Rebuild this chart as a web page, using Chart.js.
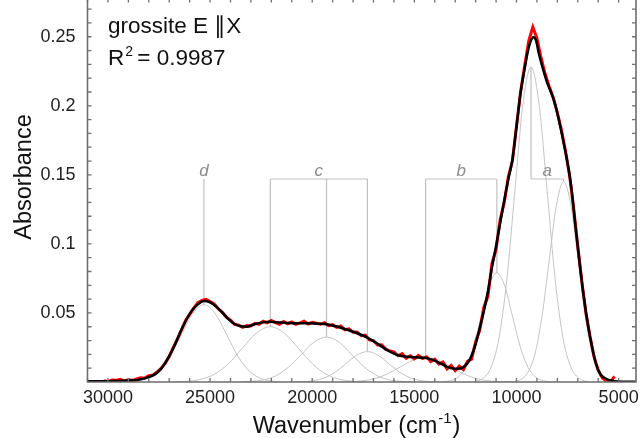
<!DOCTYPE html>
<html>
<head>
<meta charset="utf-8">
<script src="https://cdn.jsdelivr.net/npm/chart.js@4.4.1/dist/chart.umd.min.js"></script>
<style>
  html, body { margin: 0; padding: 0; background: #fff; }
  #caja { width: 642px; height: 438px; }
</style>
</head>
<body>
<div id="caja"><canvas id="grafico"></canvas></div>
<script>
// ---- datos ----
const fitX = [31000, 30000, 29500, 29000, 28500, 28000, 27700, 27400, 27100, 26800, 26500, 26200, 25900, 25600, 25300, 25000, 24700, 24400, 24100, 23800, 23500, 23200, 22900, 22500, 22050, 21500, 21000, 20300, 19700, 19300, 18900, 18600, 18000, 17300, 16700, 16300, 16000, 15700, 15300, 14900, 14500, 14100, 13700, 13400, 13100, 12850, 12600, 12400, 12200, 12000, 11800, 11600, 11400, 11200, 11000, 10800, 10600, 10400, 10200, 10000, 9800, 9600, 9450, 9300, 9180, 9050, 8900, 8700, 8500, 8300, 8100, 7900, 7700, 7500, 7300, 7100, 6900, 6700, 6500, 6300, 6100, 5900, 5700, 5500, 5200, 4800, 4150];
const fitY = [0.0005, 0.0006, 0.0008, 0.0010, 0.0016, 0.0035, 0.0055, 0.0095, 0.0162, 0.0245, 0.0348, 0.0440, 0.0515, 0.0562, 0.0586, 0.0577, 0.0546, 0.0502, 0.0455, 0.0420, 0.0403, 0.0400, 0.0415, 0.0430, 0.0437, 0.0430, 0.0425, 0.0425, 0.0422, 0.0418, 0.0405, 0.0393, 0.0364, 0.0322, 0.0267, 0.0228, 0.0205, 0.0190, 0.0182, 0.0179, 0.0175, 0.0160, 0.0133, 0.0110, 0.0098, 0.0096, 0.0108, 0.0135, 0.0190, 0.0275, 0.0390, 0.0510, 0.0655, 0.0830, 0.0985, 0.1150, 0.1315, 0.1470, 0.1610, 0.1850, 0.2095, 0.2270, 0.2390, 0.2470, 0.2497, 0.2475, 0.2375, 0.2265, 0.2168, 0.2095, 0.2005, 0.1880, 0.1740, 0.1585, 0.1390, 0.1110, 0.0850, 0.0610, 0.0412, 0.0253, 0.0127, 0.0058, 0.0030, 0.0015, 0.0006, 0.0002, 0.0001];

const datosX = [30200, 30000, 29800, 29600, 29400, 29200, 29000, 28800, 28600, 28400, 28200, 28000, 27800, 27600, 27400, 27200, 27000, 26800, 26600, 26400, 26200, 26000, 25800, 25600, 25400, 25200, 25000, 24800, 24600, 24400, 24200, 24000, 23800, 23600, 23400, 23200, 23000, 22800, 22600, 22400, 22200, 22000, 21800, 21600, 21400, 21200, 21000, 20800, 20600, 20400, 20200, 20000, 19800, 19600, 19400, 19200, 19000, 18800, 18600, 18400, 18200, 18000, 17800, 17600, 17400, 17200, 17000, 16800, 16600, 16400, 16200, 16000, 15800, 15600, 15400, 15200, 15000, 14800, 14600, 14400, 14200, 14000, 13800, 13600, 13400, 13200, 13000, 12800, 12600, 12400, 12200, 12000, 11800, 11600, 11400, 11200, 11000, 10800, 10600, 10400, 10200, 10000, 9800, 9600, 9400, 9200, 9000, 8800, 8600, 8400, 8200, 8000, 7800, 7600, 7400, 7200, 7000, 6800, 6600, 6400, 6200, 6000, 5800, 5600, 5400, 5200];
const datosY = [0.0010, 0.0002, 0.0015, 0.0012, 0.0020, 0.0008, 0.0016, 0.0012, 0.0022, 0.0030, 0.0028, 0.0045, 0.0050, 0.0072, 0.0098, 0.0135, 0.0185, 0.0250, 0.0308, 0.0378, 0.0445, 0.0490, 0.0535, 0.0575, 0.0590, 0.0598, 0.0582, 0.0565, 0.0530, 0.0505, 0.0470, 0.0448, 0.0418, 0.0412, 0.0396, 0.0408, 0.0405, 0.0425, 0.0418, 0.0440, 0.0428, 0.0445, 0.0430, 0.0418, 0.0438, 0.0422, 0.0435, 0.0418, 0.0428, 0.0440, 0.0420, 0.0432, 0.0425, 0.0418, 0.0430, 0.0408, 0.0415, 0.0395, 0.0405, 0.0378, 0.0385, 0.0360, 0.0362, 0.0335, 0.0340, 0.0305, 0.0300, 0.0268, 0.0270, 0.0238, 0.0225, 0.0218, 0.0190, 0.0205, 0.0172, 0.0190, 0.0168, 0.0192, 0.0170, 0.0182, 0.0148, 0.0165, 0.0130, 0.0145, 0.0095, 0.0120, 0.0082, 0.0115, 0.0090, 0.0150, 0.0165, 0.0290, 0.0375, 0.0540, 0.0620, 0.0860, 0.0960, 0.1175, 0.1300, 0.1485, 0.1600, 0.1850, 0.2100, 0.2290, 0.2470, 0.2570, 0.2490, 0.2350, 0.2232, 0.2140, 0.2060, 0.1950, 0.1825, 0.1670, 0.1495, 0.1255, 0.0985, 0.0725, 0.0500, 0.0330, 0.0180, 0.0085, 0.0030, 0.0005, 0.0000, 0.0040];

// componentes (bandas grises)
const bandaD_X  = [29000, 28660, 28100, 27540, 26980, 26420, 25860, 25300, 24740, 24180, 23620, 23060, 22500, 21940, 21600];
const bandaD_Y  = [0, 0.0006, 0.0025, 0.0076, 0.0182, 0.0340, 0.0494, 0.0560, 0.0494, 0.0340, 0.0182, 0.0076, 0.0025, 0.0006, 0];
const bandaC1_X = [26700, 26190, 25500, 24810, 24120, 23430, 22740, 22050, 21360, 20670, 19980, 19290, 18600, 17910, 17400];
const bandaC1_Y = [0, 0.0004, 0.0018, 0.0054, 0.0130, 0.0243, 0.0353, 0.0400, 0.0353, 0.0243, 0.0130, 0.0054, 0.0018, 0.0004, 0];
const bandaC2_X = [23500, 23050, 22425, 21800, 21175, 20550, 19925, 19300, 18675, 18050, 17425, 16800, 16175, 15550, 15100];
const bandaC2_Y = [0, 0.0004, 0.0014, 0.0044, 0.0106, 0.0197, 0.0287, 0.0325, 0.0287, 0.0197, 0.0106, 0.0044, 0.0014, 0.0004, 0];
const bandaC3_X = [20900, 20450, 19925, 19400, 18875, 18350, 17825, 17300, 16775, 16250, 15725, 15200, 14675, 14150, 13700];
const bandaC3_Y = [0, 0.0002, 0.0010, 0.0030, 0.0071, 0.0133, 0.0194, 0.0220, 0.0194, 0.0133, 0.0071, 0.0030, 0.0010, 0.0002, 0];
const bandaB1_X = [18700, 18200, 17575, 16950, 16325, 15700, 15075, 14450, 13825, 13200, 12575, 11950, 11325, 10700, 10200];
const bandaB1_Y = [0, 0.0002, 0.0008, 0.0024, 0.0058, 0.0108, 0.0157, 0.0178, 0.0157, 0.0108, 0.0058, 0.0024, 0.0008, 0.0002, 0];
const bandaB2_X = [13600, 13240, 12860, 12480, 12100, 11720, 11340, 10960, 10580, 10200, 9820, 9440, 9060, 8680, 8300];
const bandaB2_Y = [0, 0.0009, 0.0035, 0.0107, 0.0257, 0.0479, 0.0697, 0.0790, 0.0697, 0.0479, 0.0257, 0.0107, 0.0035, 0.0009, 0];
const bandaA1_X = [12100, 11660, 11265, 10870, 10475, 10080, 9685, 9290, 8895, 8500, 8105, 7710, 7315, 6920, 6500];
const bandaA1_Y = [0, 0.0025, 0.0100, 0.0308, 0.0740, 0.1383, 0.2012, 0.2280, 0.2012, 0.1383, 0.0740, 0.0308, 0.0100, 0.0025, 0];
const bandaA2_X = [10200, 9820, 9465, 9110, 8755, 8400, 8045, 7690, 7335, 6980, 6625, 6270, 5915, 5560, 5200];
const bandaA2_Y = [0, 0.0016, 0.0064, 0.0196, 0.0471, 0.0879, 0.1280, 0.1450, 0.1280, 0.0879, 0.0471, 0.0196, 0.0064, 0.0016, 0];

// centros y alturas de las bandas, y su grupo
const centros = [25300, 22050, 19300, 17300, 14450, 10960, 9290, 7690];
const alturas = [0.0560, 0.0400, 0.0325, 0.0220, 0.0178, 0.0790, 0.2280, 0.1450];
const grupoNombres = ['d', 'c', 'b', 'a'];
const grupoBandas = [[0], [1, 2, 3], [4, 5], [6, 7]];
const nivelCorchete = 0.147;

const xTicks = [30000, 25000, 20000, 15000, 10000, 5000];
const xTickLabels = ['30000', '25000', '20000', '15000', '10000', '5000'];
const yTicks = [0.05, 0.1, 0.15, 0.2, 0.25];
const yTickLabels = ['0.05', '0.1', '0.15', '0.2', '0.25'];

const fuente = "'Liberation Sans', Arial, sans-serif";
const pares = (xs, ys) => xs.map((x, i) => ({ x, y: ys[i] }));

const bandas = [
  [bandaD_X, bandaD_Y], [bandaC1_X, bandaC1_Y], [bandaC2_X, bandaC2_Y], [bandaC3_X, bandaC3_Y],
  [bandaB1_X, bandaB1_Y], [bandaB2_X, bandaB2_Y], [bandaA1_X, bandaA1_Y], [bandaA2_X, bandaA2_Y]
];

const datasets = [];
datasets.push({ data: pares(fitX, fitY), borderColor: '#000', borderWidth: 2.5, cubicInterpolationMode: 'monotone', order: 0 });
datasets.push({ data: pares(datosX, datosY), borderColor: '#ff0000', borderWidth: 3, tension: 0, order: 1 });
bandas.forEach(([bx, by]) => {
  datasets.push({ data: pares(bx, by), borderColor: '#c4c4c4', borderWidth: 1, cubicInterpolationMode: 'monotone', order: 2 });
});
// lineas de los corchetes
centros.forEach((c, i) => {
  datasets.push({ data: [{ x: c, y: alturas[i] }, { x: c, y: nivelCorchete }], borderColor: '#c0c0c0', borderWidth: 1.2, tension: 0, order: 3 });
});
grupoBandas.forEach(g => {
  if (g.length < 2) return;
  datasets.push({ data: [{ x: centros[g[0]], y: nivelCorchete }, { x: centros[g[g.length - 1]], y: nivelCorchete }], borderColor: '#c0c0c0', borderWidth: 1.2, tension: 0, order: 3 });
});

const decoraciones = {
  id: 'decoraciones',
  afterDatasetsDraw(chart) {
    const { ctx, scales: { x, y } } = chart;
    ctx.save();
    ctx.fillStyle = '#8c8c8c';
    ctx.font = 'italic 17px ' + fuente;
    ctx.textAlign = 'center';
    ctx.textBaseline = 'alphabetic';
    grupoBandas.forEach((g, i) => {
      const medio = (centros[g[0]] + centros[g[g.length - 1]]) / 2;
      ctx.fillText(grupoNombres[i], x.getPixelForValue(medio), y.getPixelForValue(nivelCorchete) - 3);
    });
    ctx.restore();
  },
  afterDraw(chart) {
    const { ctx, chartArea: a, scales: { x, y } } = chart;
    ctx.save();
    ctx.strokeStyle = '#6e6e6e';
    ctx.lineWidth = 1.3;
    ctx.beginPath();
    for (let v = 31000; v >= 5000; v -= 1000) {
      const px = x.getPixelForValue(v);
      ctx.moveTo(px, a.bottom); ctx.lineTo(px, a.bottom - 4);
      ctx.moveTo(px, a.top); ctx.lineTo(px, a.top + 2.5);
    }
    for (let k = 1; k <= 27; k++) {
      const py = y.getPixelForValue(k / 100);
      ctx.moveTo(a.left, py); ctx.lineTo(a.left + 4, py);
      ctx.moveTo(a.right, py); ctx.lineTo(a.right - 4, py);
    }
    ctx.stroke();
    ctx.lineWidth = 1.6;
    ctx.beginPath();
    ctx.moveTo(a.left, a.top); ctx.lineTo(a.left, a.bottom); ctx.lineTo(a.right, a.bottom); ctx.lineTo(a.right, a.top);
    ctx.stroke();

    // textos
    ctx.fillStyle = '#111';
    ctx.textAlign = 'left';
    ctx.textBaseline = 'alphabetic';
    ctx.font = '22.5px ' + fuente;
    ctx.fillText('grossite E \u2225X', 108, 33);
    ctx.fillText('R', 108, 65);
    const wR = ctx.measureText('R').width;
    ctx.font = '14px ' + fuente;
    ctx.fillText('2', 108 + wR + 1, 56);
    ctx.font = '22.5px ' + fuente;
    ctx.fillText('= 0.9987', 108 + wR + 13, 65);

    ctx.font = '23.5px ' + fuente;
    ctx.textAlign = 'center';
    ctx.fillText('Wavenumber (cm', 345, 433);
    const wW = ctx.measureText('Wavenumber (cm').width;
    const x0 = 345 + wW / 2;
    ctx.textAlign = 'left';
    ctx.font = '15px ' + fuente;
    ctx.fillText('-1', x0 + 1, 423);
    const wS = ctx.measureText('-1').width;
    ctx.font = '23.5px ' + fuente;
    ctx.fillText(')', x0 + 2 + wS, 433);

    ctx.translate(31, 177);
    ctx.rotate(-Math.PI / 2);
    ctx.textAlign = 'center';
    ctx.fillText('Absorbance', 0, 0);
    ctx.restore();
  }
};

new Chart(document.getElementById('grafico'), {
  type: 'line',
  data: { datasets },
  options: {
    responsive: true,
    maintainAspectRatio: false,
    animation: false,
    layout: { padding: { top: 0, right: 6, left: 0, bottom: 0 } },
    elements: { point: { radius: 0 } },
    plugins: { legend: { display: false }, tooltip: { enabled: false } },
    scales: {
      x: {
        type: 'linear', reverse: true, min: 4150, max: 31000,
        grid: { display: false, drawTicks: false },
        border: { display: false },
        afterBuildTicks: s => { s.ticks = xTicks.map(v => ({ value: v })); },
        afterFit: s => { s.height = 56; s.paddingLeft = 0; s.paddingRight = 0; },
        ticks: { color: '#222', font: { family: fuente, size: 18 }, padding: 5, maxRotation: 0, autoSkip: false,
          callback: (v, i) => xTickLabels[i] }
      },
      y: {
        type: 'linear', min: 0, max: 0.2766,
        grid: { display: false, drawTicks: false },
        border: { display: false },
        afterBuildTicks: s => { s.ticks = yTicks.map(v => ({ value: v })); },
        afterFit: s => { s.width = 87.5; s.paddingTop = 0; s.paddingBottom = 0; },
        ticks: { color: '#222', font: { family: fuente, size: 18 }, padding: 12, autoSkip: false,
          callback: (v, i) => yTickLabels[i] }
      }
    }
  },
  plugins: [decoraciones]
});
</script>
</body>
</html>
